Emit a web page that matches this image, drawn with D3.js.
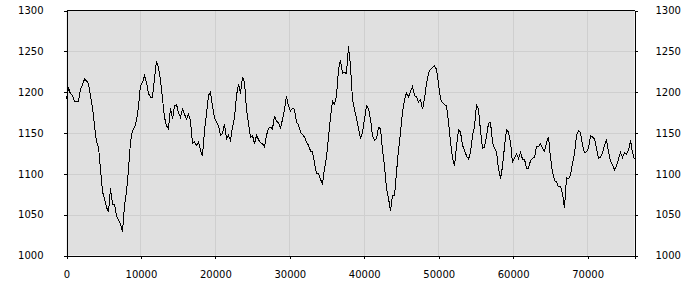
<!DOCTYPE html>
<html>
<head>
<meta charset="utf-8">
<script src="https://cdn.jsdelivr.net/npm/d3@7"></script>
<style>
  body { margin: 0; background: #fff; }
  .tick text { font-family: "DejaVu Sans", sans-serif; font-size: 10px; fill: #000; }
  .grid line { stroke: #cfcfcf; stroke-width: 1; shape-rendering: crispEdges; }
  .frame line, .domain, .tick line { stroke: #000; shape-rendering: crispEdges; }
</style>
</head>
<body>
<div id="chart"></div>
<script>
// data, one sample every STEP units along x
var STEP = 268.66;
var X_MAX = 76300;
var yTicks = [1000, 1050, 1100, 1150, 1200, 1250, 1300];
var xTicks = [0, 10000, 20000, 30000, 40000, 50000, 60000, 70000];
var values = [
  1192, 1205, 1198, 1196, 1188, 1189, 1189, 1204, 1209, 1216,
  1214, 1210, 1196, 1181, 1159, 1139, 1133, 1106, 1078, 1070,
  1059, 1053, 1082, 1063, 1063, 1049, 1043, 1039, 1029, 1061,
  1078, 1106, 1139, 1153, 1157, 1165, 1183, 1208, 1212, 1220,
  1212, 1198, 1194, 1194, 1216, 1238, 1230, 1215, 1192, 1169,
  1159, 1155, 1181, 1167, 1183, 1185, 1175, 1169, 1179, 1173,
  1167, 1173, 1165, 1137, 1139, 1135, 1139, 1129, 1122, 1153,
  1173, 1196, 1200, 1183, 1169, 1163, 1159, 1147, 1149, 1161,
  1143, 1147, 1141, 1157, 1169, 1196, 1210, 1198, 1219, 1212,
  1179, 1161, 1145, 1147, 1137, 1147, 1142, 1138, 1137, 1133,
  1147, 1156, 1157, 1155, 1171, 1164, 1163, 1155, 1167, 1179,
  1195, 1183, 1177, 1180, 1179, 1163, 1160, 1151, 1148, 1145,
  1139, 1135, 1128, 1127, 1113, 1101, 1100, 1093, 1088, 1106,
  1120, 1145, 1170, 1189, 1185, 1196, 1228, 1239, 1223, 1224,
  1223, 1256, 1232, 1191, 1179, 1168, 1155, 1143, 1151, 1167,
  1183, 1180, 1167, 1147, 1141, 1143, 1157, 1155, 1129, 1110,
  1082, 1070, 1055, 1074, 1073, 1102, 1129, 1151, 1175, 1191,
  1199, 1194, 1201, 1207, 1196, 1194, 1188, 1191, 1179, 1192,
  1211, 1223, 1228, 1230, 1232, 1228, 1210, 1192, 1187, 1185,
  1183, 1163, 1139, 1120, 1110, 1133, 1154, 1151, 1135, 1129,
  1122, 1118, 1126, 1147, 1157, 1185, 1179, 1153, 1131, 1133,
  1145, 1162, 1163, 1139, 1131, 1127, 1106, 1094, 1109, 1133,
  1154, 1151, 1139, 1114, 1119, 1124, 1119, 1126, 1118, 1118,
  1107, 1107, 1116, 1119, 1120, 1133, 1133, 1137, 1131, 1128,
  1138, 1145, 1120, 1102, 1092, 1090, 1084, 1085, 1076, 1058,
  1095, 1094, 1098, 1113, 1124, 1147, 1153, 1151, 1135, 1126,
  1127, 1131, 1147, 1145, 1143, 1131, 1119, 1120, 1126, 1135,
  1141, 1127, 1116, 1111, 1105, 1110, 1118, 1126, 1120, 1126,
  1124, 1129, 1141, 1126, 1118
];

// Constants
const WIDTH = 700;
const HEIGHT = 300;
const LEFT = 66.5, RIGHT = 634.5, TOP = 10.5, BOTTOM = 255.5;

var svg = d3.select('#chart').append('svg')
            .attr('width', WIDTH)
            .attr('height', HEIGHT);

var x = d3.scaleLinear().domain([0, X_MAX]).range([LEFT, RIGHT]);
var y = d3.scaleLinear().domain([1000, 1300]).range([BOTTOM, TOP]);

// plot background
svg.append('rect')
   .attr('x', LEFT)
   .attr('y', TOP)
   .attr('width', RIGHT - LEFT)
   .attr('height', BOTTOM - TOP)
   .attr('fill', '#e0e0e0');

// grid lines
var grid = svg.append('g').classed('grid', true);
grid.selectAll('line.v').data(xTicks.slice(1))
    .enter().append('line')
    .attr('x1', d => Math.floor(x(d)) + 0.5).attr('x2', d => Math.floor(x(d)) + 0.5)
    .attr('y1', TOP).attr('y2', BOTTOM);
grid.selectAll('line.h').data(yTicks.slice(1, -1))
    .enter().append('line')
    .attr('x1', LEFT).attr('x2', RIGHT)
    .attr('y1', d => Math.round(y(d)) + 0.5).attr('y2', d => Math.round(y(d)) + 0.5);

// the series (aliased like the original)
var line = d3.line()
             .x((d, i) => x(i * STEP))
             .y(d => y(d));

svg.append('path')
   .datum(values)
   .attr('d', line)
   .attr('fill', 'none')
   .attr('stroke', '#000')
   .attr('stroke-width', 1)
   .attr('shape-rendering', 'crispEdges');

// axes
svg.append('g')
   .attr('transform', 'translate(' + LEFT + ',0)')
   .call(d3.axisLeft(y).tickValues(yTicks).tickSize(3).tickPadding(20).tickFormat(d3.format('d')));

svg.append('g')
   .attr('transform', 'translate(' + RIGHT + ',0)')
   .call(d3.axisRight(y).tickValues(yTicks).tickSize(3).tickPadding(18).tickFormat(d3.format('d')));

svg.append('g')
   .attr('transform', 'translate(0,' + BOTTOM + ')')
   .call(d3.axisBottom(x).tickValues(xTicks).tickSize(3).tickPadding(12).tickFormat(d3.format('d')));

// top border
svg.append('g').classed('frame', true)
   .append('line')
   .attr('x1', LEFT).attr('x2', RIGHT)
   .attr('y1', TOP).attr('y2', TOP);

svg.selectAll('.domain').attr('stroke-width', 1);
</script>
</body>
</html>
